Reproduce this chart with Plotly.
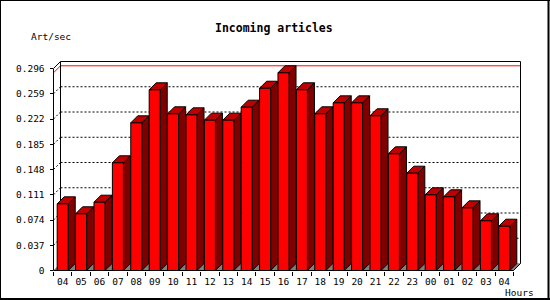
import plotly.graph_objects as go

# ---------------- data ----------------
hours = ["04", "05", "06", "07", "08", "09", "10", "11", "12", "13", "14", "15",
         "16", "17", "18", "19", "20", "21", "22", "23", "00", "01", "02", "03", "04"]
art_per_sec = [0.0977, 0.0831, 0.1001, 0.1578, 0.2164, 0.2648, 0.2296, 0.2281,
               0.2203, 0.2203, 0.2393, 0.2671, 0.2897, 0.2648, 0.2296, 0.2457,
               0.2457, 0.2267, 0.1710, 0.1426, 0.1109, 0.1080, 0.0918, 0.0728, 0.0649]
y_tick_vals = [0, 0.037, 0.074, 0.111, 0.148, 0.185, 0.222, 0.259, 0.296]
y_tick_text = ["0", "0.037", "0.074", "0.111", "0.148", "0.185", "0.222", "0.259", "0.296"]

# ---------------- layout constants ----------------
W, H = 550, 300
PX_PER_CAT = 18.4
X0_PX = 53.5      # pixel column of front-left axis
Y0_PX = 270.5     # pixel row of value 0
YTOP_PX = 68.5    # pixel row of axis top
YMAX = y_tick_vals[-1]
K = (Y0_PX - YTOP_PX) / YMAX
DEPTH = 7
DX = DEPTH / PX_PER_CAT
DY = DEPTH / K
BAR_W = 0.6
N = len(hours)
XL, XR = -0.5, N - 0.5

x_lo = XL - X0_PX / PX_PER_CAT
x_hi = x_lo + W / PX_PER_CAT
y_hi = Y0_PX / K
y_lo = y_hi - H / K

FONT = "DejaVu Sans Mono"


def polys_xy(polys):
    xs, ys = [], []
    for p in polys:
        for (a, b) in p + [p[0]]:
            xs.append(a)
            ys.append(b)
        xs.append(None)
        ys.append(None)
    return xs, ys


def segs_xy(segs):
    xs, ys = [], []
    for (a, b), (c, d) in segs:
        xs += [a, c, None]
        ys += [b, d, None]
    return xs, ys


traces = []

# floor
fx, fy = polys_xy([[(XL, 0), (XR, 0), (XR + DX, DY), (XL + DX, DY)]])
traces.append(go.Scatter(x=fx, y=fy, mode="lines", fill="toself", fillcolor="#808080",
                         line=dict(color="#808080", width=0.5)))

# grid lines on back wall + left wall
gsegs = []
for t in y_tick_vals[1:-1]:
    gsegs.append(((XL + DX, t + DY), (XR + DX, t + DY)))
    gsegs.append(((XL, t), (XL + DX, t + DY)))
gx, gy = segs_xy(gsegs)
traces.append(go.Scatter(x=gx, y=gy, mode="lines",
                         line=dict(color="black", width=1, dash="2px,2px")))

# max line (red)
m = max(art_per_sec)
rx, ry = segs_xy([((XL + DX, m + DY), (XR + DX, m + DY)), ((XL, m), (XL + DX, m + DY))])
traces.append(go.Scatter(x=rx, y=ry, mode="lines", line=dict(color="#ff0000", width=1)))

# back frame
bsegs = [((XL + DX, YMAX + DY), (XR + DX, YMAX + DY)),
         ((XR + DX, YMAX + DY), (XR + DX, DY)),
         ((XL + DX, YMAX + DY), (XL + DX, DY)),
         ((XL, YMAX), (XL + DX, YMAX + DY)),
         ((XR, 0), (XR + DX, DY))]
bx, by = segs_xy(bsegs)
traces.append(go.Scatter(x=bx, y=by, mode="lines", line=dict(color="black", width=1)))

# bars: side faces, top faces, front faces
sides, tops, fronts = [], [], []
for i, v in enumerate(art_per_sec):
    l, r = i - BAR_W / 2, i + BAR_W / 2
    sides.append([(r, 0), (r + DX, DY), (r + DX, v + DY), (r, v)])
    tops.append([(l, v), (l + DX, v + DY), (r + DX, v + DY), (r, v)])
    fronts.append([(l, 0), (l, v), (r, v), (r, 0)])
for polys, col in ((sides, "#800000"), (tops, "#c00000"), (fronts, "#ff0000")):
    px, py = polys_xy(polys)
    traces.append(go.Scatter(x=px, y=py, mode="lines", fill="toself", fillcolor=col,
                             line=dict(color="black", width=1)))

# front frame
ffx, ffy = segs_xy([((XL, 0), (XL, YMAX)), ((XL, 0), (XR, 0))])
traces.append(go.Scatter(x=ffx, y=ffy, mode="lines", line=dict(color="black", width=1)))

for tr in traces:
    tr.update(hoverinfo="skip", showlegend=False, xaxis="x", yaxis="y")

# dummy trace for tick subplot
traces.append(go.Scatter(x=[0], y=[0], xaxis="x2", yaxis="y2", mode="markers",
                         marker=dict(opacity=0), hoverinfo="skip", showlegend=False))

fig = go.Figure(data=traces)

fig.update_layout(
    width=W, height=H,
    margin=dict(l=0, r=0, t=0, b=0, pad=0, autoexpand=False),
    showlegend=False,
    paper_bgcolor="white",
    plot_bgcolor="rgba(0,0,0,0)",
    xaxis=dict(domain=[0, 1], range=[x_lo, x_hi], visible=False, fixedrange=True,
               automargin=False),
    yaxis=dict(domain=[0, 1], range=[y_lo, y_hi], visible=False, fixedrange=True,
               automargin=False),
    xaxis2=dict(domain=[X0_PX / W, (X0_PX + N * PX_PER_CAT) / W], range=[XL, XR],
                anchor="y2", showgrid=False, zeroline=False, showline=False, automargin=False,
                tickmode="array", tickvals=list(range(N)), ticktext=hours,
                ticks="outside", ticklen=4, tickcolor="rgba(0,0,0,0)",
                ticklabelstandoff=-2,
                minor=dict(ticks="outside", ticklen=4, tickcolor="black", tickwidth=1,
                           tick0=-0.5, dtick=1, showgrid=False),
                tickfont=dict(family=FONT, size=9.5, color="black"), fixedrange=True),
    yaxis2=dict(domain=[(H - Y0_PX) / H, (H - YTOP_PX) / H], range=[0, YMAX],
                anchor="x2", showgrid=False, zeroline=False, showline=False, automargin=False,
                tickmode="array", tickvals=y_tick_vals, ticktext=y_tick_text,
                ticks="outside", ticklen=3, tickcolor="black", tickwidth=1,
                ticklabelstandoff=3,
                tickfont=dict(family=FONT, size=9.5, color="black"), fixedrange=True),
    annotations=[
        dict(text="<b>Incoming articles</b>", xref="paper", yref="paper",
             x=274 / W, y=1 - 27.5 / H, xanchor="center", yanchor="middle",
             showarrow=False, font=dict(family=FONT, size=11.5, color="black")),
        dict(text="Art/sec", xref="paper", yref="paper",
             x=50.5 / W, y=1 - 37 / H, xanchor="center", yanchor="middle",
             showarrow=False, font=dict(family=FONT, size=9.5, color="black")),
        dict(text="Hours", xref="paper", yref="paper",
             x=519 / W, y=1 - 292.5 / H, xanchor="center", yanchor="middle",
             showarrow=False, borderpad=0, font=dict(family=FONT, size=9.5, color="black")),
    ],
    shapes=[
        dict(type="line", xref="paper", yref="paper", x0=0.5 / W, x1=0.5 / W, y0=0, y1=1,
             line=dict(color="black", width=1)),
        dict(type="line", xref="paper", yref="paper", x0=0, x1=1, y0=1 - 0.5 / H, y1=1 - 0.5 / H,
             line=dict(color="black", width=1)),
        dict(type="line", xref="paper", yref="paper", x0=548.5 / W, x1=548.5 / W, y0=0, y1=1,
             line=dict(color="black", width=2)),
        dict(type="line", xref="paper", yref="paper", x0=0, x1=1, y0=1 - 299 / H, y1=1 - 299 / H,
             line=dict(color="black", width=2)),
    ],
)

fig.write_html("out.html")
